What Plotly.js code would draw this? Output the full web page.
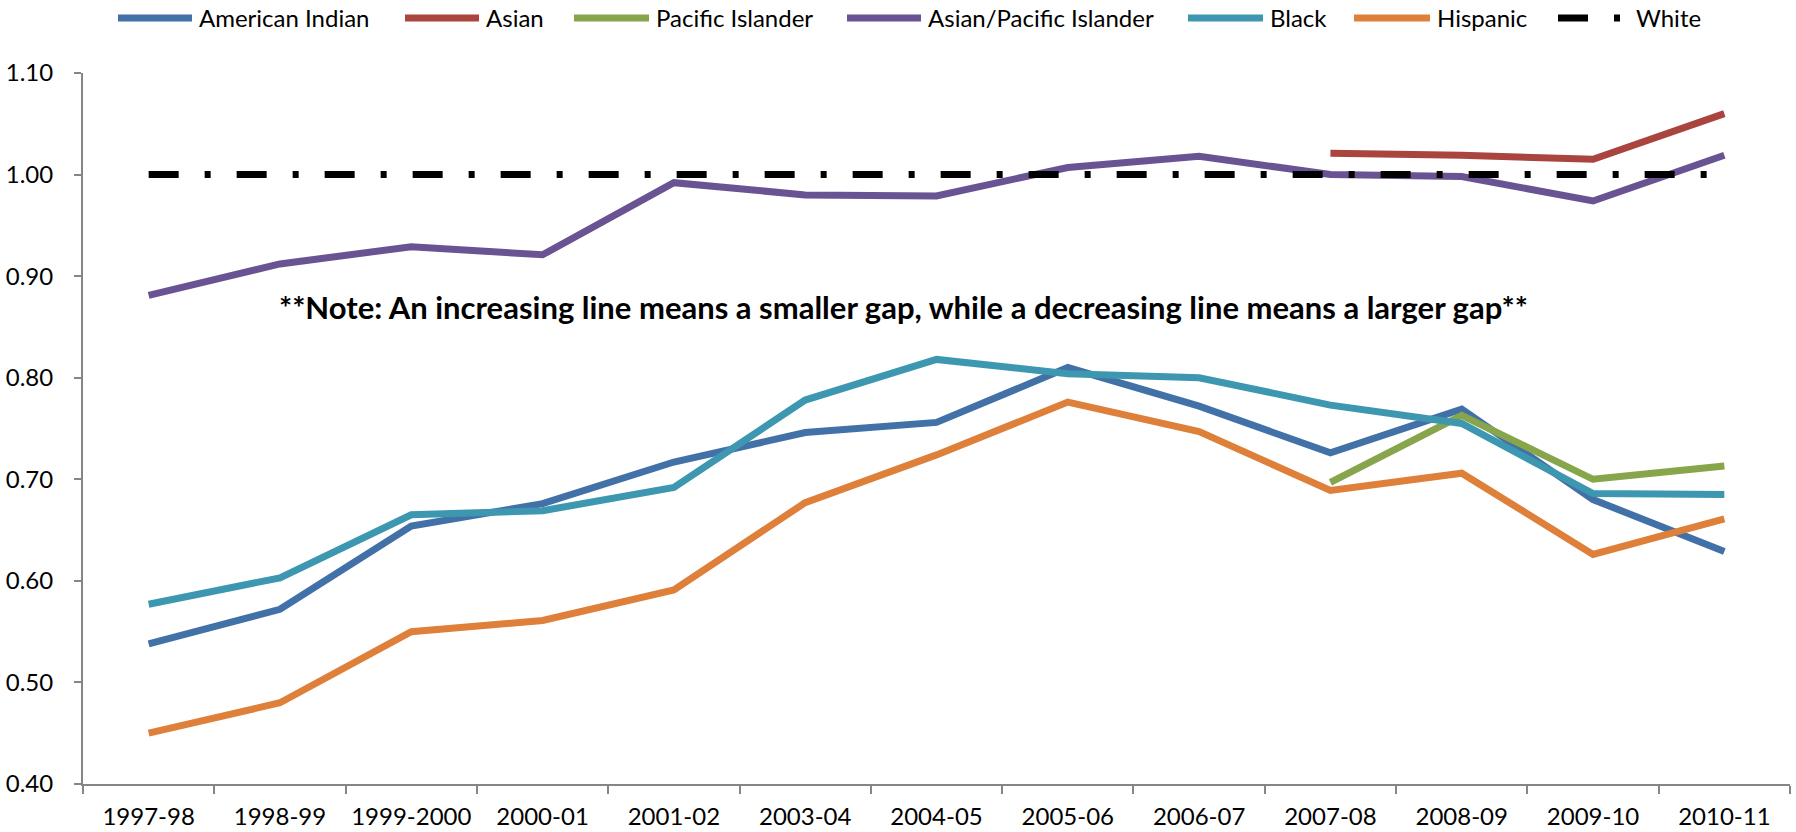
<!DOCTYPE html>
<html>
<head>
<meta charset="utf-8">
<script src="https://cdn.plot.ly/plotly-3.0.1.min.js"></script>
<style>html,body{margin:0;padding:0;background:#fff;}#chart{width:1796px;height:832px;}</style>
</head>
<body>
<div id="chart"></div>
<script>
const years = ["1997-98","1998-99","1999-2000","2000-01","2001-02","2003-04","2004-05","2005-06","2006-07","2007-08","2008-09","2009-10","2010-11"];
const americanIndian = [0.538,0.572,0.654,0.676,0.717,0.746,0.756,0.810,0.772,0.726,0.769,0.680,0.629];
const asian = [null,null,null,null,null,null,null,null,null,1.021,1.019,1.015,1.060];
const pacificIslander = [null,null,null,null,null,null,null,null,null,0.697,0.763,0.700,0.713];
const asianPacific = [0.881,0.912,0.929,0.921,0.992,0.980,0.979,1.007,1.018,1.000,0.998,0.974,1.019];
const black = [0.577,0.603,0.665,0.669,0.692,0.778,0.818,0.804,0.800,0.773,0.755,0.686,0.685];
const hispanic = [0.450,0.480,0.550,0.561,0.591,0.677,0.724,0.776,0.747,0.689,0.706,0.626,0.661];
const white = [1,1,1,1,1,1,1,1,1,1,1,1,1];
const seriesNames = ["American Indian","Asian","Pacific Islander","Asian/Pacific Islander","Black","Hispanic","White"];
const seriesColors = ["#4271A8","#A9443F","#87A54A","#6A5393","#3D97B0","#DE803A","#000000"];
const noteText = "**Note: An increasing line means a smaller gap, while a decreasing line means a larger gap**";

const FONT = "Lato, 'Open Sans', sans-serif";
const W = 1796, H = 832, ML = 83, MR = 6, MT = 73, MB = 48;
const PW = W - ML - MR, PH = H - MT - MB;
const WHITE_DASH = "30px,26px,6px,26px";
const LW = 7;
const px2x = p => (p - ML) / PW;
const py2y = p => 1 - (p - MT) / PH;

const seriesValues = [americanIndian, asian, pacificIslander, asianPacific, black, hispanic, white];
const data = seriesValues.map((vals, i) => ({
  x: years, y: vals, name: seriesNames[i], type: "scatter", mode: "lines",
  line: {color: seriesColors[i], width: LW, dash: i === 6 ? WHITE_DASH : "solid"},
  connectgaps: false, hoverinfo: "skip", showlegend: false
}));

// custom legend (long line samples like the original)
const legendLineStart = [118, 405, 574, 847, 1188, 1354, 1558];
const legendLineEnd   = [192, 479, 649, 921, 1263, 1430, 1620];
const legendY = 18;
const shapes = [], annotations = [];
seriesNames.forEach((n, i) => {
  shapes.push({type: "line", xref: "paper", yref: "paper",
    x0: px2x(legendLineStart[i]), x1: px2x(legendLineEnd[i]), y0: py2y(legendY), y1: py2y(legendY),
    line: {color: seriesColors[i], width: LW, dash: i === 6 ? WHITE_DASH : "solid"}});
  annotations.push({xref: "paper", yref: "paper", x: px2x(legendLineEnd[i] + (i === 6 ? 14 : 5)), y: py2y(legendY),
    xanchor: "left", yanchor: "middle", showarrow: false, text: n,
    font: {family: FONT, size: 24, color: "#000"}});
});
annotations.push({xref: "paper", yref: "paper", x: px2x(903), y: py2y(307),
  xanchor: "center", yanchor: "middle", showarrow: false, text: "<b>" + noteText + "</b>",
  font: {family: FONT, size: 31, color: "#000"}});

const layout = {
  width: W, height: H,
  margin: {l: ML, r: MR, t: MT, b: MB, pad: 0},
  paper_bgcolor: "#ffffff", plot_bgcolor: "#ffffff",
  font: {family: FONT, size: 24, color: "#000"},
  showlegend: false,
  xaxis: {type: "category", categoryorder: "array", categoryarray: years, range: [-0.5, 12.5],
    showline: true, linecolor: "#868686", linewidth: 2, showgrid: false, zeroline: false,
    ticks: "outside", tickson: "boundaries", ticklen: 8, tickcolor: "#868686", tickwidth: 2,
    tickfont: {family: FONT, size: 24, color: "#000"}, ticklabelstandoff: 10, fixedrange: true},
  yaxis: {range: [0.4, 1.1], dtick: 0.1, tick0: 0.4, tickformat: ".2f",
    showline: true, linecolor: "#868686", linewidth: 2, showgrid: false, zeroline: false,
    ticks: "outside", ticklen: 7, tickcolor: "#868686", tickwidth: 2,
    tickfont: {family: FONT, size: 24, color: "#000"}, ticklabelstandoff: 16, fixedrange: true},
  shapes: shapes,
  annotations: annotations
};
Plotly.newPlot("chart", data, layout, {displayModeBar: false, staticPlot: true});
</script>
</body>
</html>
